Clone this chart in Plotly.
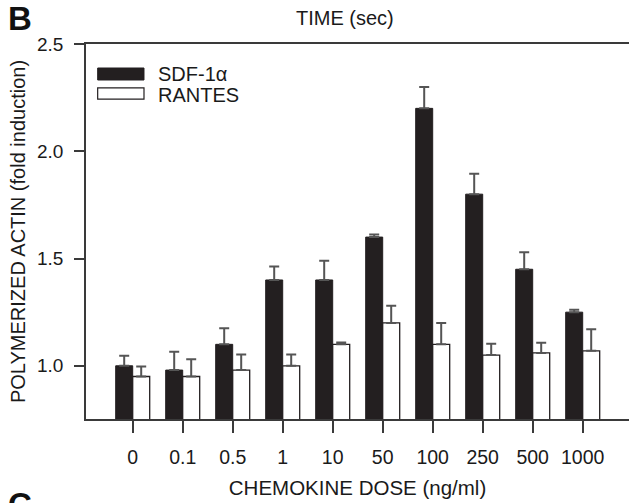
import plotly.graph_objects as go

doses = ["0", "0.1", "0.5", "1", "10", "50", "100", "250", "500", "1000"]
sdf_vals = [1.00, 0.98, 1.10, 1.40, 1.40, 1.60, 2.20, 1.80, 1.45, 1.25]
sdf_err = [0.047, 0.085, 0.075, 0.063, 0.09, 0.012, 0.10, 0.095, 0.079, 0.011]
rantes_vals = [0.95, 0.95, 0.98, 1.00, 1.10, 1.20, 1.10, 1.05, 1.06, 1.07]
rantes_err = [0.047, 0.081, 0.073, 0.053, 0.009, 0.08, 0.099, 0.053, 0.047, 0.10]
y_ticks = [1.0, 1.5, 2.0, 2.5]
y_ticktext = ["1.0", "1.5", "2.0", "2.5"]

FONT = "Liberation Sans, Arial, sans-serif"
TXT = "#1a1a1a"
AX = "#3a3a3a"
pos = list(range(len(doses)))

fig = go.Figure()
fig.add_trace(go.Bar(
    x=pos, y=sdf_vals, name="SDF-1α",
    marker=dict(color="#231f20", line=dict(color="#231f20", width=1)),
    error_y=dict(type="data", array=sdf_err, arrayminus=[0]*len(sdf_err), symmetric=False,
                 color="#555555", thickness=2, width=5),
    showlegend=False,
))
fig.add_trace(go.Bar(
    x=pos, y=rantes_vals, name="RANTES",
    marker=dict(color="white", line=dict(color="#231f20", width=1.3)),
    error_y=dict(type="data", array=rantes_err, arrayminus=[0]*len(rantes_err), symmetric=False,
                 color="#555555", thickness=2, width=5),
    showlegend=False,
))

fig.update_layout(
    width=629, height=503,
    margin=dict(l=86, r=0, t=44, b=84),
    paper_bgcolor="white", plot_bgcolor="white",
    barmode="group", bargap=0.32, bargroupgap=0,
    font=dict(family=FONT, color=TXT, size=20),
    xaxis=dict(
        range=[-0.934, 9.926], tickvals=pos, ticktext=doses,
        showline=True, linecolor=AX, linewidth=1.5, mirror=True,
        ticks="outside", ticklen=12, tickwidth=1.5, tickcolor=AX,
        showgrid=False, zeroline=False,
        tickfont=dict(size=19.5), ticklabelstandoff=8,
        title=dict(text="CHEMOKINE DOSE (ng/ml)", font=dict(size=20.5), standoff=13),
    ),
    yaxis=dict(
        range=[0.752, 2.5], tickvals=y_ticks, ticktext=y_ticktext,
        showline=True, linecolor=AX, linewidth=1.5,
        ticks="outside", ticklen=10, tickwidth=1.5, tickcolor=AX,
        showgrid=False, zeroline=False,
        tickfont=dict(size=19), ticklabelstandoff=7,
        title=dict(text="POLYMERIZED ACTIN (fold induction)", font=dict(size=20), standoff=6),
    ),
    shapes=[
        dict(type="rect", xref="paper", yref="paper", x0=0.0215, x1=0.1068, y0=0.904, y1=0.936,
             fillcolor="#231f20", line=dict(color="#231f20", width=1)),
        dict(type="rect", xref="paper", yref="paper", x0=0.0215, x1=0.1068, y0=0.853, y1=0.883,
             fillcolor="white", line=dict(color="#231f20", width=1.2)),
    ],
    annotations=[
        dict(text="SDF-1α", xref="paper", yref="paper", x=0.129, y=0.92, xanchor="left", yanchor="middle",
             showarrow=False, font=dict(size=20)),
        dict(text="RANTES", xref="paper", yref="paper", x=0.129, y=0.864, xanchor="left", yanchor="middle",
             showarrow=False, font=dict(size=20)),
        dict(text="<b>B</b>", xref="paper", yref="paper", x=-0.148, y=1.067, xanchor="left", yanchor="middle",
             showarrow=False, font=dict(size=33, color="#111")),
        dict(text="TIME (sec)", xref="paper", yref="paper", x=0.477, y=1.069, xanchor="center", yanchor="middle",
             showarrow=False, font=dict(size=20)),
        dict(text="<b>C</b>", xref="paper", yref="paper", x=-0.148, y=-0.228, xanchor="left", yanchor="middle",
             showarrow=False, font=dict(size=33, color="#111")),
    ],
)

fig.write_html("out.html")
